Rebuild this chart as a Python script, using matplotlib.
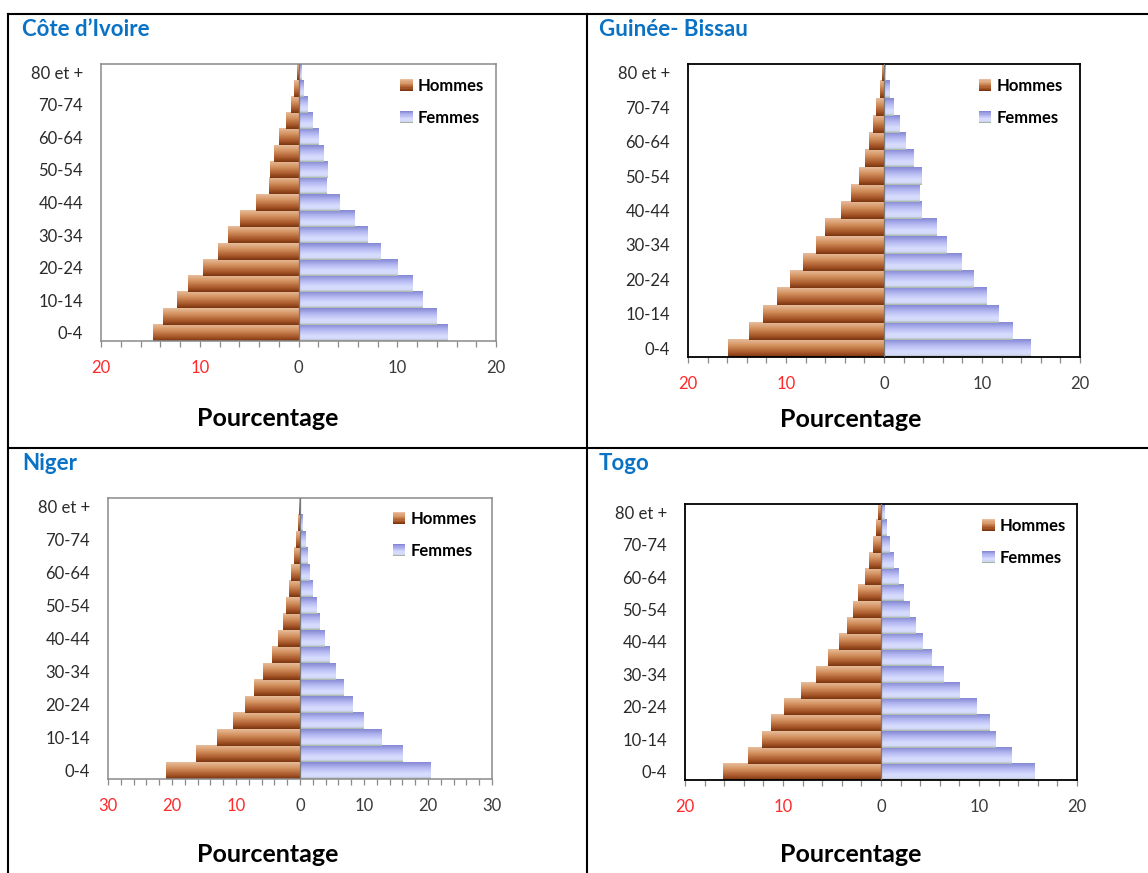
import numpy as np
import matplotlib
matplotlib.use("Agg")
import matplotlib.pyplot as plt
from matplotlib.colors import LinearSegmentedColormap
from matplotlib.legend_handler import HandlerBase
from matplotlib.patches import Patch, Rectangle
from matplotlib.lines import Line2D

plt.rcParams["font.family"] = ["Lato", "DejaVu Sans"]

AGES = ['0-4', '5-9', '10-14', '15-19', '20-24', '25-29', '30-34', '35-39', '40-44',
        '45-49', '50-54', '55-59', '60-64', '65-69', '70-74', '75-79', '80 et +']

COUNTRIES = ["Côte d\u2019Ivoire", "Guinée- Bissau", "Niger", "Togo"]

# percentages, from 0-4 up to 80 et +
CIV_HOMMES = [14.75, 13.7, 12.3, 11.2, 9.7, 8.2, 7.1, 5.9, 4.3, 2.95, 2.9, 2.45, 1.95, 1.25, 0.8, 0.45, 0.2]
CIV_FEMMES = [15.0, 13.9, 12.5, 11.5, 10.0, 8.25, 6.9, 5.65, 4.15, 2.75, 2.85, 2.5, 1.95, 1.35, 0.9, 0.5, 0.25]

GNB_HOMMES = [15.95, 13.8, 12.3, 10.9, 9.55, 8.3, 6.9, 6.0, 4.4, 3.4, 2.6, 1.95, 1.55, 1.1, 0.8, 0.45, 0.25]
GNB_FEMMES = [14.9, 13.1, 11.7, 10.45, 9.15, 7.95, 6.4, 5.4, 3.8, 3.6, 3.8, 3.05, 2.15, 1.55, 0.95, 0.55, 0.2]

NER_HOMMES = [20.9, 16.3, 13.0, 10.5, 8.6, 7.25, 5.8, 4.45, 3.4, 2.6, 2.15, 1.7, 1.4, 0.95, 0.6, 0.35, 0.2]
NER_FEMMES = [20.4, 16.0, 12.7, 9.95, 8.2, 6.85, 5.5, 4.6, 3.8, 3.1, 2.6, 2.0, 1.5, 1.1, 0.8, 0.35, 0.15]

TGO_HOMMES = [16.1, 13.6, 12.1, 11.25, 9.9, 8.2, 6.65, 5.4, 4.3, 3.5, 2.85, 2.3, 1.65, 1.2, 0.8, 0.5, 0.35]
TGO_FEMMES = [15.65, 13.3, 11.7, 11.05, 9.7, 8.05, 6.35, 5.2, 4.25, 3.5, 2.9, 2.3, 1.8, 1.3, 0.9, 0.55, 0.35]

LIMITS = [20, 20, 30, 20]

W, H = 1148, 873

# pixel layout of each panel: axes box, title, x label, legend anchor, frame colour
PANELS = [
    dict(box=(101, 64, 496, 341), title=(22, 29), xlabel=(268, 418), leg=(0.757, 0.950), frame='#8a8a8a'),
    dict(box=(688, 64, 1080, 357), title=(599, 29), xlabel=(851, 419), leg=(0.742, 0.952), frame='black'),
    dict(box=(108, 498, 492, 779), title=(22, 463), xlabel=(268, 854), leg=(0.742, 0.954), frame='#8a8a8a'),
    dict(box=(685, 504, 1077, 780), title=(599, 463), xlabel=(851, 854), leg=(0.758, 0.950), frame='black'),
]

HOMMES_CMAP = LinearSegmentedColormap.from_list(
    'hommes', [(0, '#e8bc9c'), (0.35, '#d4925f'), (0.75, '#a9582a'), (1, '#7a3510')])
FEMMES_CMAP = LinearSegmentedColormap.from_list(
    'femmes', [(0, '#8588d4'), (0.35, '#b6baf1'), (0.7, '#d8ddff'), (0.88, '#d3d9f8'), (1, '#a4b5a0')])


class GradientHandler(HandlerBase):
    def __init__(self, cmap):
        super().__init__()
        self.cmap = cmap

    def create_artists(self, legend, orig_handle, xdescent, ydescent, width, height, fontsize, trans):
        n = 10
        arts = []
        for i in range(n):
            arts.append(Rectangle((-xdescent, -ydescent + height * (n - 1 - i) / n), width, height / n,
                                  facecolor=self.cmap(i / (n - 1)), edgecolor='none', transform=trans))
        return arts


def gradient_bars(ax, bars, cmap):
    grad = np.linspace(0, 1, 64).reshape(-1, 1)
    for b in bars:
        x, y = b.get_x(), b.get_y()
        w, h = b.get_width(), b.get_height()
        ax.imshow(grad, extent=(x, x + w, y, y + h), aspect='auto', cmap=cmap,
                  interpolation='bilinear', zorder=2)


fig = plt.figure(figsize=(W / 100, H / 100), dpi=100)

data = [(CIV_HOMMES, CIV_FEMMES), (GNB_HOMMES, GNB_FEMMES), (NER_HOMMES, NER_FEMMES), (TGO_HOMMES, TGO_FEMMES)]

for country, (hommes, femmes), lim, p in zip(COUNTRIES, data, LIMITS, PANELS):
    x0, y0, x1, y1 = p['box']
    ax = fig.add_axes([x0 / W, 1 - y1 / H, (x1 - x0) / W, (y1 - y0) / H])
    y = np.arange(len(AGES))

    hb = ax.barh(y, -np.array(hommes), height=1.0, color='#b06030', zorder=1)
    fb = ax.barh(y, femmes, height=1.0, color='#c8ccf5', zorder=1)
    gradient_bars(ax, hb, HOMMES_CMAP)
    gradient_bars(ax, fb, FEMMES_CMAP)
    ax.axvline(0, color='#7a7a7a', lw=0.9, zorder=3)

    ax.set_xlim(-lim, lim)
    ax.set_ylim(-0.5, len(AGES) - 0.5)
    ax.set_xticks(np.arange(-lim, lim + 1, 10))
    ax.set_xticks(np.arange(-lim, lim + 1, 2), minor=True)
    ticks = ax.get_xticks()
    ax.set_xticklabels([f"{abs(int(t))}" for t in ticks])
    for t, lab in zip(ticks, ax.get_xticklabels()):
        lab.set_color('#ff2a2a' if t < 0 else '#3a3a3a')
    ax.tick_params(axis='x', which='both', direction='out', length=4, width=0.9,
                   color='#8a8a8a', labelsize=12, pad=10)

    ax.set_yticks(y)
    ax.set_yticklabels([a if i % 2 == 0 else '' for i, a in enumerate(AGES)])
    ax.tick_params(axis='y', length=0, labelsize=12, labelcolor='#2a2a2a', pad=13)

    for s in ax.spines.values():
        s.set_color(p['frame'])
        s.set_linewidth(1.3 if p['frame'] == 'black' else 1.1)
    ax.spines['bottom'].set_color('#8a8a8a' if p['frame'] != 'black' else 'black')

    handles = [Patch(), Patch()]
    ax.legend(handles, ['Hommes', 'Femmes'], loc='upper left', bbox_to_anchor=p['leg'],
              frameon=False, borderpad=0, borderaxespad=0, handlelength=0.75, handleheight=0.75,
              handletextpad=0.3, labelspacing=0.95, prop={'weight': 'bold', 'size': 12},
              handler_map={handles[0]: GradientHandler(HOMMES_CMAP), handles[1]: GradientHandler(FEMMES_CMAP)})

    tx, ty = p['title']
    fig.text(tx / W, 1 - ty / H, country, ha='left', va='center', color='#0a72c4',
             fontsize=16, fontweight='bold')
    lx, ly = p['xlabel']
    fig.text(lx / W, 1 - ly / H, 'Pourcentage', ha='center', va='center', color='black',
             fontsize=18, fontweight='bold')

# table lines around the four panels
for xs, ys in [((8 / W, 1), (1 - 14 / H, 1 - 14 / H)),
               ((8 / W, 1), (1 - 448 / H, 1 - 448 / H)),
               ((8 / W, 8 / W), (1 - 14 / H, 0)),
               ((587 / W, 587 / W), (1 - 14 / H, 0))]:
    fig.add_artist(Line2D(xs, ys, color='black', lw=1.5))

fig.savefig('out.png', dpi=100)
